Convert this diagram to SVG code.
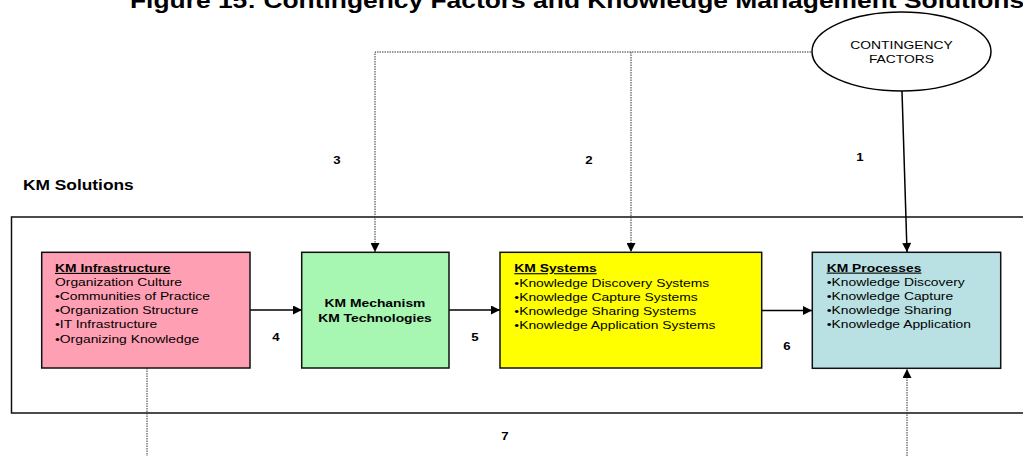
<svg xmlns="http://www.w3.org/2000/svg" width="1023" height="456" viewBox="0 0 1023 456">
  <style>
    text { font-family: "Liberation Sans", Arial, sans-serif; fill: #000; }
    .title { font-size: 22px; font-weight: bold; }
    .head { font-size: 14px; font-weight: bold; }
    .num { font-size: 10.5px; font-weight: bold; text-anchor: middle; }
    .item { font-size: 11px; }
    .bold { font-weight: bold; }
    .ul { font-weight: bold; text-decoration: underline; }
    .mid { text-anchor: middle; }
    .box { stroke: #111; stroke-width: 1.5; }
    .frame { fill: none; stroke: #111; stroke-width: 1.5; }
    .solid { fill: none; stroke: #000; stroke-width: 1.5; }
    .dotted { fill: none; stroke: #333; stroke-width: 1; stroke-dasharray: 1.5 1; }
  </style>
  <defs>
    <marker id="head" viewBox="0 0 10 10" refX="10" refY="5" markerWidth="10" markerHeight="9" markerUnits="userSpaceOnUse" orient="auto">
      <path d="M0,0 L10,5 L0,10 z" fill="#000" stroke="none"/>
    </marker>
  </defs>

  <rect width="1023" height="456" fill="#fff"/>

  <text class="title" transform="translate(130,8) scale(1.2,1)">Figure 15: Contingency Factors and Knowledge Management Solutions</text>

  <!-- frame around the solution boxes -->
  <g id="km-solutions">
    <rect class="frame" x="11.5" y="217" width="1030" height="196"/>
    <text class="head" transform="translate(23,190) scale(1.24,1)">KM Solutions</text>
  </g>

  <g id="connectors">
    <!-- contingency factors feed into mechanisms and systems (dotted) -->
    <path class="dotted" d="M811,52 H375 V252" marker-end="url(#head)"/>
    <path class="dotted" d="M631,52 V252" marker-end="url(#head)"/>
    <!-- direct influence on processes -->
    <path class="solid" d="M902,91 L907,252" marker-end="url(#head)"/>
    <!-- chain of solutions -->
    <path class="solid" d="M250,310 H302" marker-end="url(#head)"/>
    <path class="solid" d="M449,310 H500" marker-end="url(#head)"/>
    <path class="solid" d="M762,310.5 H812" marker-end="url(#head)"/>
    <!-- link 7 below the frame -->
    <path class="dotted" d="M147,368 V456"/>
    <path class="dotted" d="M907,456 V369" marker-end="url(#head)"/>
  </g>

  <g id="labels">
    <text class="num" transform="translate(860,161) scale(1.26,1)">1</text>
    <text class="num" transform="translate(589,164) scale(1.26,1)">2</text>
    <text class="num" transform="translate(337,164) scale(1.26,1)">3</text>
    <text class="num" transform="translate(276,341) scale(1.26,1)">4</text>
    <text class="num" transform="translate(475,341) scale(1.26,1)">5</text>
    <text class="num" transform="translate(787,350) scale(1.26,1)">6</text>
    <text class="num" transform="translate(505,440) scale(1.26,1)">7</text>
  </g>

  <g id="contingency-factors">
    <ellipse cx="901.5" cy="51.5" rx="89.5" ry="39.5" fill="#fff" stroke="#000" stroke-width="1.5"/>
    <text class="item mid" transform="translate(901.5,49.3) scale(1.26,1)">CONTINGENCY</text>
    <text class="item mid" transform="translate(901.5,62.7) scale(1.26,1)">FACTORS</text>
  </g>

  <g id="km-infrastructure">
    <rect class="box" x="41.7" y="252.3" width="208.3" height="115.7" fill="#ff9fb3"/>
    <text class="item ul" transform="translate(55,272) scale(1.26,1)">KM Infrastructure</text>
    <text class="item" transform="translate(55,285.7) scale(1.26,1)">Organization Culture</text>
    <text class="item" transform="translate(55,300) scale(1.26,1)">•Communities of Practice</text>
    <text class="item" transform="translate(55,314) scale(1.26,1)">•Organization Structure</text>
    <text class="item" transform="translate(55,328) scale(1.26,1)">•IT Infrastructure</text>
    <text class="item" transform="translate(55,342.7) scale(1.26,1)">•Organizing Knowledge</text>
  </g>

  <g id="km-mechanism">
    <rect class="box" x="301.7" y="252.3" width="147.3" height="115.7" fill="#a7f6b2"/>
    <text class="item bold mid" transform="translate(375,306.7) scale(1.26,1)">KM Mechanism</text>
    <text class="item bold mid" transform="translate(375,321.7) scale(1.26,1)">KM Technologies</text>
  </g>

  <g id="km-systems">
    <rect class="box" x="500" y="252.3" width="261.7" height="115.7" fill="#ffff00"/>
    <text class="item ul" transform="translate(514.3,272.3) scale(1.26,1)">KM Systems</text>
    <text class="item" transform="translate(514.3,286.7) scale(1.26,1)">•Knowledge Discovery Systems</text>
    <text class="item" transform="translate(514.3,301) scale(1.26,1)">•Knowledge Capture Systems</text>
    <text class="item" transform="translate(514.3,315) scale(1.26,1)">•Knowledge Sharing Systems</text>
    <text class="item" transform="translate(514.3,329) scale(1.26,1)">•Knowledge Application Systems</text>
  </g>

  <g id="km-processes">
    <rect class="box" x="812.3" y="252.3" width="188.4" height="116" fill="#b9e1e3"/>
    <text class="item ul" transform="translate(826.7,271.7) scale(1.26,1)">KM Processes</text>
    <text class="item" transform="translate(826.7,285.7) scale(1.26,1)">•Knowledge Discovery</text>
    <text class="item" transform="translate(826.7,300) scale(1.26,1)">•Knowledge Capture</text>
    <text class="item" transform="translate(826.7,314.3) scale(1.26,1)">•Knowledge Sharing</text>
    <text class="item" transform="translate(826.7,328.3) scale(1.26,1)">•Knowledge Application</text>
  </g>
</svg>
